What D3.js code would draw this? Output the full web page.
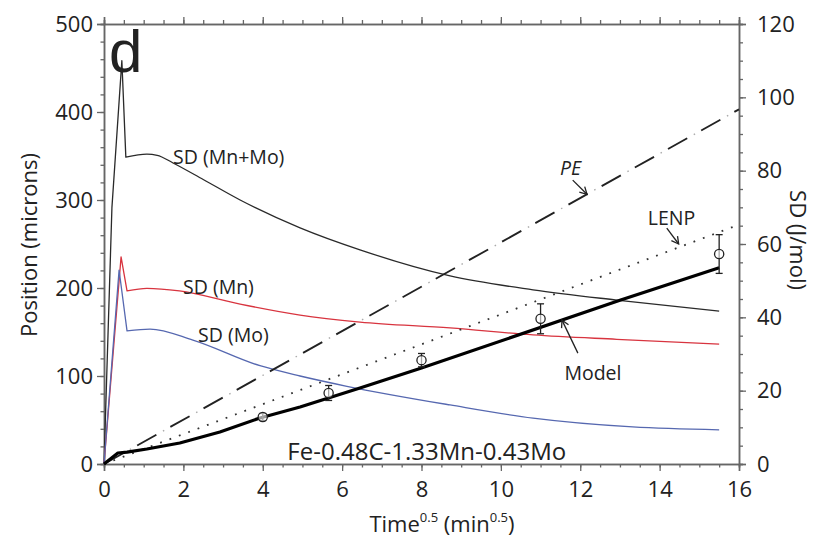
<!DOCTYPE html>
<html><head><meta charset="utf-8">
<script src="https://cdn.jsdelivr.net/npm/d3@7"></script>
<style>
body{margin:0;background:#fff}
svg{display:block}
text{font-family:"Open Sans",sans-serif;fill:#222}
</style></head><body>
<svg id="chart" width="821" height="543"></svg>
<script>
// Solute drag (J/mol, right axis) against time^0.5
const sdMnMoT = [0, 0.2, 0.45, 0.55, 1.08, 1.34, 1.74, 2.5, 3.43, 4.94, 6.45, 8.72, 10.81, 12.92, 15.5];
const sdMnMo  = [0, 70, 110, 83.7, 84.5, 84.2, 82.1, 77.6, 72, 64.4, 58.4, 51.3, 47.5, 44.7, 41.7];
const sdMnT   = [0, 0.43, 0.58, 1.08, 1.9, 3.43, 4.94, 6.45, 8.72, 10.81, 12.92, 15.5];
const sdMn    = [0, 56.5, 47.2, 47.9, 47.2, 43.6, 40.6, 38.7, 37.1, 35.2, 34.0, 32.7];
const sdMoT   = [0, 0.38, 0.58, 1.16, 2.24, 3.93, 4.94, 6.12, 8.72, 10.81, 13.32, 15.5];
const sdMo    = [0, 52.9, 36.3, 36.8, 33.8, 26.8, 24.0, 21.2, 16.1, 12.5, 10.1, 9.3];
// index where each solute-drag spike ends and the smooth decay begins
const spikeEnd = {mnmo: 3, mn: 2, mo: 2};

// Ferrite position (microns, left axis)
const modelT  = [0, 0.35, 0.58, 1.08, 1.91, 2.92, 3.93, 4.94, 6.45, 8.0, 13.0, 15.5];
const model   = [0, 12.5, 13.5, 17, 23.9, 36.4, 52.3, 64.8, 86.4, 109, 186, 223];
const peT     = [0, 16];
const pe      = [0, 403];
const lenpT   = [0, 16];
const lenp    = [0, 272];
const expT    = [4, 5.66, 8, 11, 15.5];
const expPos  = [53.4, 80.7, 118, 165, 238.6];
const expErr  = [4, 8.5, 7.6, 17, 22];

// Tick values
const xMajor = [0, 2, 4, 6, 8, 10, 12, 14, 16];
const xMinor = d3.range(0, 16.01, 0.5);
const posMajor = [0, 100, 200, 300, 400, 500];
const posMinor = d3.range(0, 501, 20);
const sdMajor = [0, 20, 40, 60, 80, 100, 120];
const sdMinor = d3.range(0, 121, 5);

const svg = d3.select("#chart");
const x = d3.scaleLinear().domain([0, 16]).range([104, 739]);
const yPos = d3.scaleLinear().domain([0, 500]).range([464, 24]);
const ySD = d3.scaleLinear().domain([0, 120]).range([464, 24]);

const axisColor = "#666";

function styleAxis(g) {
  g.attr("font-family", "Open Sans, sans-serif").attr("font-size", 22);
  g.selectAll(".domain").attr("stroke", axisColor).attr("stroke-width", 1.5);
  g.selectAll(".tick line").attr("stroke", axisColor).attr("stroke-width", 1.3);
  g.selectAll(".tick text").attr("fill", "#222");
}
function axis(transform, gen) {
  svg.append("g").attr("transform", transform).call(gen).call(styleAxis);
}

// bottom
axis("translate(0,464)", d3.axisBottom(x).tickValues(xMinor).tickSize(3.5).tickFormat(""));
axis("translate(0,464)", d3.axisBottom(x).tickValues(xMajor).tickSize(7).tickPadding(10).tickFormat(d3.format("d")));
// top
axis("translate(0,24)", d3.axisTop(x).tickValues(xMinor).tickSize(4).tickFormat(""));
axis("translate(0,24)", d3.axisTop(x).tickValues(xMajor).tickSize(7).tickFormat(""));
// left
axis("translate(104,0)", d3.axisLeft(yPos).tickValues(posMinor).tickSize(3.5).tickFormat(""));
axis("translate(104,0)", d3.axisLeft(yPos).tickValues(posMajor).tickSize(7).tickPadding(4).tickFormat(d3.format("d")));
// right
axis("translate(739,0)", d3.axisRight(ySD).tickValues(sdMinor).tickSize(4).tickFormat(""));
axis("translate(739,0)", d3.axisRight(ySD).tickValues(sdMajor).tickSize(7).tickPadding(11).tickFormat(d3.format("d")));

// axis titles
svg.append("text").attr("transform", "translate(37,245) rotate(-90)")
  .attr("text-anchor", "middle").attr("font-size", 22).text("Position (microns)");
svg.append("text").attr("transform", "translate(790,240) rotate(90)")
  .attr("text-anchor", "middle").attr("font-size", 22).text("SD (J/mol)");
const xt = svg.append("text").attr("x", 442).attr("y", 532)
  .attr("text-anchor", "middle").attr("font-size", 22);
xt.append("tspan").text("Time");
xt.append("tspan").attr("font-size", 13).attr("dy", -10).text("0.5");
xt.append("tspan").attr("dy", 10).text(" (min");
xt.append("tspan").attr("font-size", 13).attr("dy", -10).text("0.5");
xt.append("tspan").attr("dy", 10).text(")");

// line generators
const zip = (ts, vs) => ts.map((t, i) => [t, vs[i]]);
const sharpSD = d3.line().x(d => x(d[0])).y(d => ySD(d[1]));
const smoothSD = d3.line().x(d => x(d[0])).y(d => ySD(d[1])).curve(d3.curveMonotoneX);
const linePos = d3.line().x(d => x(d[0])).y(d => yPos(d[1]));

// spike drawn with straight segments, decay drawn smooth
function sdCurve(ts, vs, k, color) {
  const pts = zip(ts, vs);
  const d = sharpSD(pts.slice(0, k + 1)) + smoothSD(pts.slice(k)).replace(/^M[^CL]*/, "");
  svg.append("path").attr("d", d)
    .attr("fill", "none").attr("stroke", color).attr("stroke-width", 1.3).attr("stroke-linejoin", "round");
}
sdCurve(sdMnMoT, sdMnMo, spikeEnd.mnmo, "#2a2a2a");
sdCurve(sdMnT, sdMn, spikeEnd.mn, "#d8343f");
sdCurve(sdMoT, sdMo, spikeEnd.mo, "#5668b0");

// PE: long dashes with faint dots in the gaps
svg.append("path").datum(zip(peT, pe)).attr("d", linePos)
  .attr("fill", "none").attr("stroke", "#222").attr("stroke-width", 1.9)
  .attr("stroke-dasharray", "22,16");
svg.append("path").datum(zip(peT, pe)).attr("d", linePos)
  .attr("fill", "none").attr("stroke", "#555").attr("stroke-opacity", 0.5).attr("stroke-width", 1.4)
  .attr("stroke-dasharray", "1.5,36.5").attr("stroke-dashoffset", -29.5);
svg.append("path").datum(zip(lenpT, lenp)).attr("d", linePos)
  .attr("fill", "none").attr("stroke", "#333").attr("stroke-width", 1.8)
  .attr("stroke-dasharray", "1.8,8.2");
svg.append("path").datum(zip(modelT, model)).attr("d", linePos)
  .attr("fill", "none").attr("stroke", "#000").attr("stroke-width", 3.2).attr("stroke-linejoin", "round");

// measured positions with error bars
const pts = svg.append("g").selectAll("g").data(expT.map((t, i) => ({t, v: expPos[i], e: expErr[i]})))
  .join("g").attr("stroke", "#222").attr("fill", "none").attr("stroke-width", 1.3);
pts.append("line").attr("x1", d => x(d.t)).attr("x2", d => x(d.t))
  .attr("y1", d => yPos(d.v - d.e)).attr("y2", d => yPos(d.v + d.e));
pts.append("line").attr("x1", d => x(d.t) - 3.5).attr("x2", d => x(d.t) + 3.5)
  .attr("y1", d => yPos(d.v + d.e)).attr("y2", d => yPos(d.v + d.e));
pts.append("line").attr("x1", d => x(d.t) - 3.5).attr("x2", d => x(d.t) + 3.5)
  .attr("y1", d => yPos(d.v - d.e)).attr("y2", d => yPos(d.v - d.e));
pts.append("circle").attr("cx", d => x(d.t)).attr("cy", d => yPos(d.v)).attr("r", 4.6)
  .attr("fill", "rgba(255,255,255,0.6)");

// labels
const label = (t, v, s, opts = {}) => svg.append("text")
  .attr("x", x(t)).attr("y", yPos(v)).attr("font-size", opts.size || 19.5)
  .attr("font-style", opts.italic ? "italic" : null).text(s);
label(1.74, 341, "SD (Mn+Mo)");
label(1.99, 193, "SD (Mn)");
label(2.37, 138.6, "SD (Mo)");
label(11.49, 328, "PE", {italic: true});
label(13.7, 271.5, "LENP");
label(11.6, 95.4, "Model");
svg.append("text").attr("x", x(4.62)).attr("y", yPos(4.5)).attr("font-size", 24)
  .text("Fe-0.48C-1.33Mn-0.43Mo");
svg.append("text").attr("x", 109).attr("y", 72).attr("font-size", 60)
  .style("font-family", "Liberation Sans, Arial, sans-serif").attr("fill", "#111").text("d");

// callout arrows with open heads
function arrow(t1, v1, t2, v2) {
  const x1 = x(t1), y1 = yPos(v1), x2 = x(t2), y2 = yPos(v2);
  const a = Math.atan2(y2 - y1, x2 - x1), L = 8, w = 0.5;
  const g = svg.append("g").attr("stroke", "#222").attr("stroke-width", 1.3).attr("fill", "none");
  g.append("line").attr("x1", x1).attr("y1", y1).attr("x2", x2).attr("y2", y2);
  g.append("path").attr("d",
    `M${x2 - L * Math.cos(a - w)},${y2 - L * Math.sin(a - w)}L${x2},${y2}L${x2 - L * Math.cos(a + w)},${y2 - L * Math.sin(a + w)}`);
}
arrow(11.81, 322.6, 12.17, 306.5);
arrow(14.18, 268, 14.48, 250);
arrow(11.94, 126, 11.54, 163.5);
</script>
</body></html>
